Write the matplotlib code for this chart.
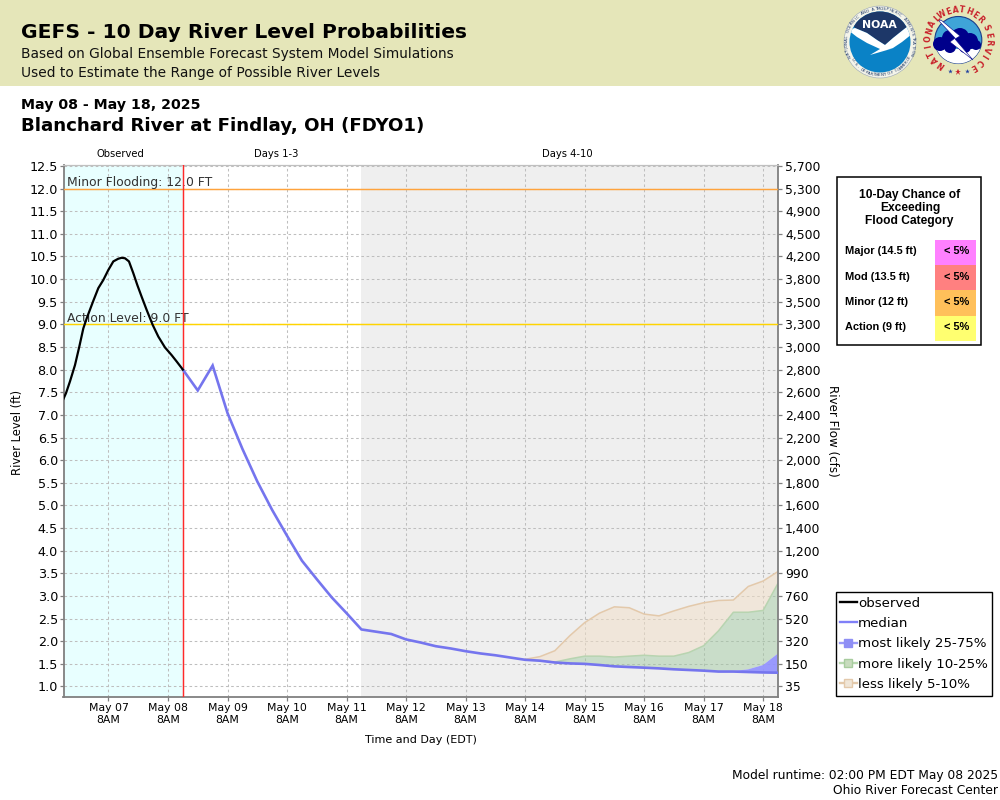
import numpy as np
import matplotlib
matplotlib.use("Agg")
import matplotlib.pyplot as plt
from matplotlib.lines import Line2D
from matplotlib.patches import Circle, Polygon, Rectangle

# ---------- data ----------
obs_days = [-0.758, -0.714, -0.647, -0.563, -0.490, -0.423, -0.367, -0.255, -0.171, -0.087,
            -0.003, 0.081, 0.165, 0.221, 0.277, 0.344, 0.417, 0.484, 0.557, 0.641,
            0.742, 0.837, 0.949, 1.061, 1.145, 1.25]
obs_level = [7.35, 7.48, 7.74, 8.10, 8.51, 8.91, 9.13, 9.52, 9.80, 9.98,
             10.20, 10.39, 10.45, 10.47, 10.46, 10.39, 10.13, 9.87, 9.61, 9.32,
             8.99, 8.73, 8.49, 8.32, 8.18, 8.00]

fc_start = 1.25
fc_step = 0.25
median = [8.00, 7.54, 8.09, 7.04, 6.25, 5.53, 4.90, 4.33, 3.78, 3.37, 2.97, 2.62, 2.26,
          2.21, 2.16, 2.04, 1.97, 1.89, 1.84, 1.78, 1.73, 1.69, 1.64, 1.59, 1.57, 1.53,
          1.51, 1.50, 1.475, 1.445, 1.43, 1.416, 1.40, 1.38, 1.365, 1.35, 1.33, 1.33,
          1.32, 1.31, 1.305]
band_start_index = 23   # May 14 8AM
q25 = [1.59, 1.56, 1.52, 1.50, 1.49, 1.465, 1.435, 1.42, 1.405, 1.39, 1.37, 1.355, 1.34,
       1.32, 1.32, 1.31, 1.30, 1.29]
q75 = [1.59, 1.57, 1.53, 1.51, 1.50, 1.475, 1.445, 1.43, 1.416, 1.40, 1.38, 1.365, 1.35,
       1.335, 1.34, 1.38, 1.475, 1.73]
q90 = [1.59, 1.57, 1.54, 1.61, 1.67, 1.67, 1.65, 1.67, 1.69, 1.67, 1.67, 1.75, 1.90,
       2.23, 2.64, 2.64, 2.68, 3.28]
q95 = [1.60, 1.66, 1.79, 2.12, 2.41, 2.62, 2.76, 2.74, 2.60, 2.56, 2.67, 2.77, 2.85,
       2.90, 2.91, 3.21, 3.33, 3.54]

y_ticks = [12.5, 12.0, 11.5, 11.0, 10.5, 10.0, 9.5, 9.0, 8.5, 8.0, 7.5, 7.0, 6.5, 6.0,
           5.5, 5.0, 4.5, 4.0, 3.5, 3.0, 2.5, 2.0, 1.5, 1.0]
flow_labels = ["5,700", "5,300", "4,900", "4,500", "4,200", "3,800", "3,500", "3,300",
               "3,000", "2,800", "2,600", "2,400", "2,200", "2,000", "1,800", "1,600",
               "1,400", "1,200", "990", "760", "520", "320", "150", "35"]
x_ticks = list(range(12))
x_labels = ["May %02d\n8AM" % d for d in range(7, 19)]

flood_labels = ["Major (14.5 ft)", "Mod (13.5 ft)", "Minor (12 ft)", "Action (9 ft)"]
flood_chance = ["< 5%", "< 5%", "< 5%", "< 5%"]
flood_colors = ["#FF80FF", "#FF8080", "#FFC05A", "#FFFF70"]

action_level = 9.0
minor_level = 12.0

# ---------- figure ----------
plt.rcParams["font.family"] = "DejaVu Sans"
fig = plt.figure(figsize=(10, 8), dpi=100, facecolor="white")

bg = fig.add_axes([0, 0, 1, 1], zorder=0)
bg.set_xlim(0, 1000)
bg.set_ylim(800, 0)
bg.axis("off")
bg.add_patch(Rectangle((0, 0), 1000, 85.5, fc="#E5E6B9", ec="none"))
bg.text(21, 33, "GEFS - 10 Day River Level Probabilities", fontsize=14.6, fontweight="bold",
        va="center", ha="left", color="black")
bg.text(21, 54, "Based on Global Ensemble Forecast System Model Simulations", fontsize=9.93,
        va="center", ha="left", color="#111111")
bg.text(21, 73, "Used to Estimate the Range of Possible River Levels", fontsize=9.93,
        va="center", ha="left", color="#111111")
bg.text(21, 105, "May 08 - May 18, 2025", fontsize=10.15, fontweight="bold", va="center", ha="left")
bg.text(21, 126, "Blanchard River at Findlay, OH (FDYO1)", fontsize=13.15, fontweight="bold",
        va="center", ha="left")
bg.text(120, 154, "Observed", fontsize=7.2, ha="center", va="center")
bg.text(276.5, 154, "Days 1-3", fontsize=7.2, ha="center", va="center")
bg.text(567, 154, "Days 4-10", fontsize=7.2, ha="center", va="center")
bg.text(18, 432, "River Level (ft)", fontsize=8.3, rotation=90, ha="center", va="center")
bg.text(832, 431, "River Flow (cfs)", fontsize=8.6, rotation=270, ha="center", va="center")
bg.text(421, 740, "Time and Day (EDT)", fontsize=8, ha="center", va="center")
bg.text(998, 775, "Model runtime: 02:00 PM EDT May 08 2025", fontsize=8.85, ha="right", va="center")
bg.text(998, 791, "Ohio River Forecast Center", fontsize=8.85, ha="right", va="center")


def arc_text(ax, s, cx, cy, r, a0, step, size, color, weight="normal", inward_top=True):
    """Place characters along a circle; angles in degrees clockwise from the top."""
    for i, ch in enumerate(s):
        a = np.deg2rad(a0 + i * step)
        x = cx + r * np.sin(a)
        y = cy - r * np.cos(a)
        rot = -np.rad2deg(a) if inward_top else 180 - np.rad2deg(a)
        ax.text(x, y, ch, fontsize=size, color=color, fontweight=weight, rotation=rot,
                rotation_mode="anchor", ha="center", va="center")


# NOAA logo
cx, cy = 880, 42
bg.add_patch(Circle((cx, cy), 36, fc="#F4F4EA", ec="#9AA6B8", lw=0.4))
inner = Circle((cx, cy), 30.5, fc="#0A82C6", ec="none")
bg.add_patch(inner)
navy = Polygon([(850, 20), (855, 28), (867, 33), (877, 40), (885, 45), (893, 38), (903, 30),
                (912, 23), (912, 0), (850, 0)], fc="#1D3768", ec="none")
bg.add_patch(navy)
navy.set_clip_path(inner)
bird = Polygon([(848, 30), (855, 28), (867, 33), (877, 40), (885, 45), (893, 38), (903, 30),
                (912, 23), (912, 34), (902, 42), (893, 48), (886, 50), (894, 48), (870, 55),
                (880, 49), (867, 43), (857, 37)], fc="white", ec="none")
bg.add_patch(bird)
bird.set_clip_path(inner)
bg.text(879, 25, "NOAA", color="white", fontsize=7.8, fontweight="bold", ha="center", va="center")
arc_text(bg, "NATIONAL OCEANIC AND ATMOSPHERIC ADMINISTRATION", cx, cy, 33.3, -115, 4.9, 3.0, "#1D3768")
arc_text(bg, "U.S. DEPARTMENT OF COMMERCE", cx, cy, 33.3, 237, -4.6, 3.0, "#1D3768", inward_top=False)

# NWS logo
cx, cy = 958.3, 40
disk = Circle((cx, cy), 23.5, fc="#3FA4D8", ec="#1B3E8C", lw=0.8)
bg.add_patch(disk)
low = Rectangle((930, 49), 60, 20, fc="white", ec="none")
bg.add_patch(low)
low.set_clip_path(disk)
for px, py, pr in [(940, 44, 7), (950, 38, 8), (960, 37, 9), (970, 41, 8), (976, 45, 5),
                   (950, 47, 6), (965, 47, 6)]:
    bg.add_patch(Circle((px, py), pr, fc="#00008B", ec="none", zorder=3))
bg.add_patch(Polygon([(941, 20), (960, 36), (955, 39), (973, 60), (950, 42), (955, 38), (939, 21)],
                     fc="white", ec="#00008B", lw=0.4, zorder=4))
arc_text(bg, "NATIONAL", cx, cy, 30, -145, 14.4, 5.6, "#C8202A", weight="bold")
arc_text(bg, "WEATHER", cx, cy, 30, -32, 13.3, 5.6, "#C8202A", weight="bold")
arc_text(bg, "SERVICE", cx, cy, 30, 66, 14, 5.6, "#C8202A", weight="bold")
bg.plot(950, 71, marker="*", ms=3.5, color="#2040A0", mew=0)
bg.plot(958, 72, marker="*", ms=5, color="#C8202A", mew=0)
bg.plot(967, 71, marker="*", ms=3.5, color="#2040A0", mew=0)

# flood-category table
bg.add_patch(Rectangle((836.5, 176.5), 144, 168.5, fc="white", ec="black", lw=1.1))
tfont = ["Liberation Sans", "DejaVu Sans"]
bg.text(910, 195, "10-Day Chance of", fontsize=8.65, fontweight="bold", family=tfont, ha="center", va="center")
bg.text(910, 208, "Exceeding", fontsize=8.65, fontweight="bold", family=tfont, ha="center", va="center")
bg.text(909, 221, "Flood Category", fontsize=8.65, fontweight="bold", family=tfont, ha="center", va="center")
for i, (lab, chance, col) in enumerate(zip(flood_labels, flood_chance, flood_colors)):
    top = 240 + i * 25.2
    bg.add_patch(Rectangle((935, top), 41, 25.2, fc=col, ec="none"))
    bg.text(845, top + 11.5, lab, fontsize=7.9, fontweight="bold", family=tfont, ha="left", va="center")
    bg.text(957, top + 11.5, chance, fontsize=7.9, fontweight="bold", family=tfont, ha="center", va="center")

# ---------- main plot ----------
L, R, T, B = 63.5, 778.0, 165.0, 697.0
ax = fig.add_axes([L / 1000, (800 - B) / 800, (R - L) / 1000, (B - T) / 800], zorder=2)
ax.set_xlim(-0.756, 11.25)
ax.set_ylim(0.768, 12.52)
ax.set_facecolor("white")

fc_days = fc_start + fc_step * np.arange(len(median))
band_days = fc_days[band_start_index:]

ax.axvspan(-0.756, fc_start, color="#E8FFFF", lw=0, zorder=0)
ax.axvspan(4.25, 11.25, color="#EFEFEF", lw=0, zorder=0)

ax.set_axisbelow(True)
ax.grid(True, color="#BEBEBE", linestyle=(0, (2.5, 2.5)), linewidth=0.75)

tan, green = "#E3C9AB", "#B8D4B0"
ax.fill_between(band_days, q90, q95, facecolor="#F2DFC6", alpha=0.5, lw=0, zorder=2)
ax.plot(band_days, q95, color=tan, lw=1.1, zorder=2.1)
ax.fill_between(band_days, q75, q90, facecolor="#9CC89C", alpha=0.45, lw=0, zorder=2)
ax.plot(band_days, q90, color=green, lw=1.1, zorder=2.1)
ax.fill_between(band_days, q25, q75, facecolor="#9090FF", alpha=0.9, lw=0, zorder=2.2)

ax.axhline(minor_level, color="#FFA33C", lw=1.05, zorder=3)
ax.axhline(action_level, color="#FFD400", lw=1.05, zorder=3)
ax.text(-0.70, 11.98, "Minor Flooding: 12.0 FT", fontsize=8.9, color="#333333", ha="left", va="bottom", zorder=4)
ax.text(-0.70, 8.98, "Action Level: 9.0 FT", fontsize=8.9, color="#333333", ha="left", va="bottom", zorder=4)

ax.axvline(fc_start, color="#FF2A2A", lw=1.05, zorder=4)
ax.plot(fc_days, median, color="#7575EE", lw=1.9, solid_joinstyle="miter", zorder=5)
ax.plot(obs_days, obs_level, color="black", lw=1.6, zorder=6)

ax.set_xticks(x_ticks)
ax.set_xticklabels(x_labels, fontsize=7.8, linespacing=1.25)
ax.set_yticks(y_ticks)
ax.set_yticklabels(["%.1f" % v for v in y_ticks], fontsize=9.2)
ax.tick_params(axis="both", color="#808080", length=3, width=0.9, pad=1)
for side, c, w in [("left", "#808080", 1.3), ("bottom", "#808080", 1.3),
                   ("right", "#808080", 1.3), ("top", "#C0C0C0", 0.9)]:
    ax.spines[side].set_color(c)
    ax.spines[side].set_linewidth(w)

ax2 = ax.twinx()
ax2.set_ylim(ax.get_ylim())
ax2.set_yticks(y_ticks)
ax2.set_yticklabels(flow_labels, fontsize=8.9)
ax2.tick_params(axis="y", color="#808080", length=3, width=0.9, pad=2)
for s in ax2.spines.values():
    s.set_visible(False)

handles = [
    Line2D([], [], color="black", lw=1.7),
    Line2D([], [], color="#8080F8", lw=1.7),
    Line2D([], [], color="#9A9AF8", lw=1.7, marker="s", ms=5.5, mfc="#8F8FF5", mec="#8F8FF5"),
    Line2D([], [], color="#B8D8B0", lw=1.7, marker="s", ms=5.5, mfc="#C8DCBE", mec="#A8CC9E"),
    Line2D([], [], color="#E3C9AB", lw=1.7, marker="s", ms=5.5, mfc="#F0E6D8", mec="#E3C9AB"),
]
labels = ["observed", "median", "most likely 25-75%", "more likely 10-25%", "less likely 5-10%"]
leg = fig.legend(handles, labels, loc="lower left", bbox_to_anchor=(0.8355, 1 - 695.5 / 800),
                 bbox_transform=fig.transFigure, fontsize=9.6, frameon=True, fancybox=False,
                 edgecolor="black", facecolor="white", framealpha=1, borderpad=0.33,
                 labelspacing=0.55, handlelength=1.26, handletextpad=0.1, borderaxespad=0)
leg.get_frame().set_linewidth(1.0)
leg.set_zorder(5)

fig.savefig("out.png", dpi=100)
